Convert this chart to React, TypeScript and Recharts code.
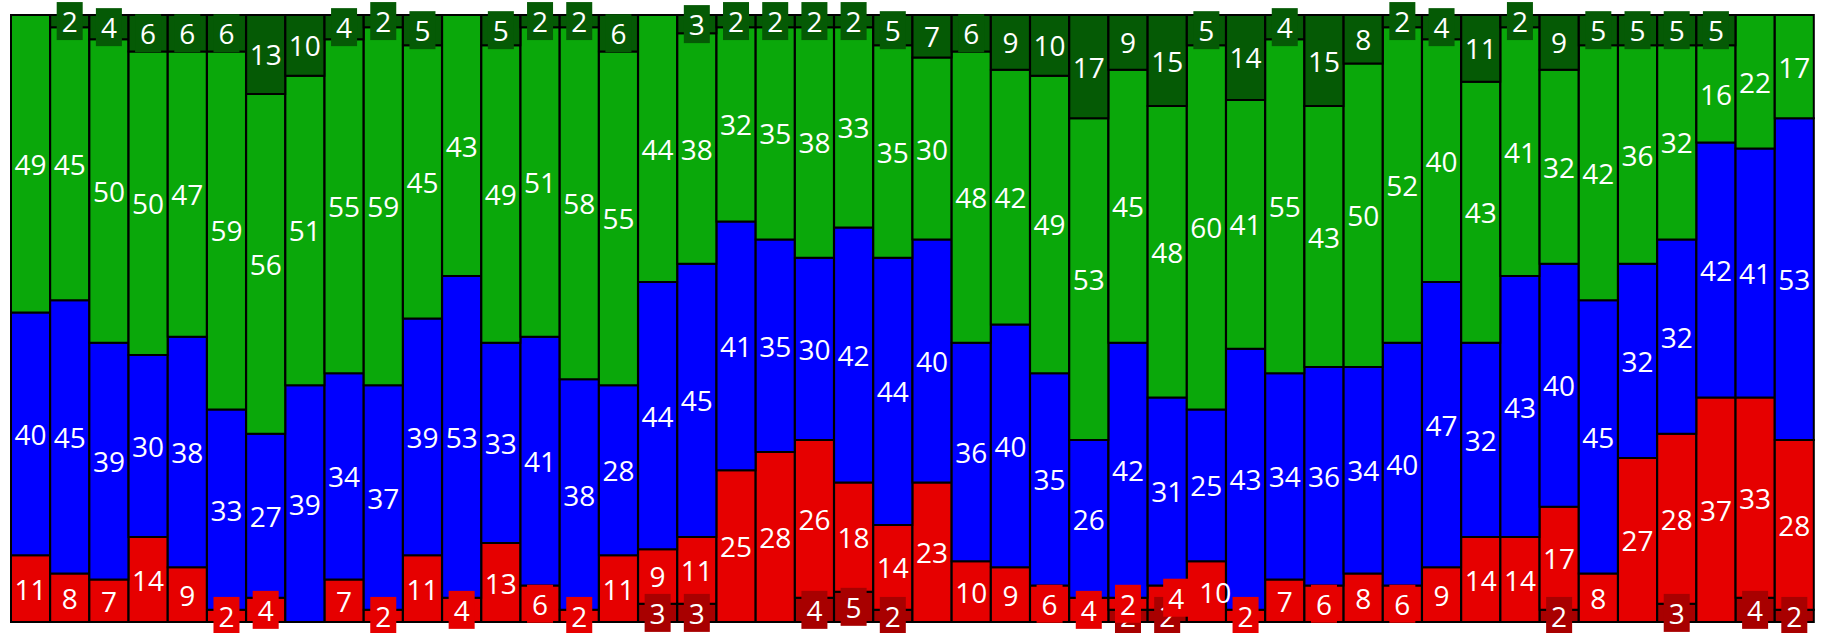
import { BarChart, Bar, XAxis, YAxis, LabelList } from "recharts";

// share of each group per column, bottom to top
const darkRed = [0, 0, 0, 0, 0, 0, 0, 0, 0, 0, 0, 0, 0, 0, 0, 0, 3, 3, 0, 0, 4, 5, 2, 0, 0, 0, 0, 0, 2, 2, 0, 0, 0, 0, 0, 0, 0, 0, 0, 2, 0, 0, 3, 0, 4, 2];
const red = [11, 8, 7, 14, 9, 2, 4, 0, 7, 2, 11, 4, 13, 6, 2, 11, 9, 11, 25, 28, 26, 18, 14, 23, 10, 9, 6, 4, 2, 4, 10, 2, 7, 6, 8, 6, 9, 14, 14, 17, 8, 27, 28, 37, 33, 28];
const blue = [40, 45, 39, 30, 38, 33, 27, 39, 34, 37, 39, 53, 33, 41, 38, 28, 44, 45, 41, 35, 30, 42, 44, 40, 36, 40, 35, 26, 42, 31, 25, 43, 34, 36, 34, 40, 47, 32, 43, 40, 45, 32, 32, 42, 41, 53];
const green = [49, 45, 50, 50, 47, 59, 56, 51, 55, 59, 45, 43, 49, 51, 58, 55, 44, 38, 32, 35, 38, 33, 35, 30, 48, 42, 49, 53, 45, 48, 60, 41, 55, 43, 50, 52, 40, 43, 41, 32, 42, 36, 32, 16, 22, 17];
const darkGreen = [0, 2, 4, 6, 6, 6, 13, 10, 4, 2, 5, 0, 5, 2, 2, 6, 0, 3, 2, 2, 2, 2, 5, 7, 6, 9, 10, 17, 9, 15, 5, 14, 4, 15, 8, 2, 4, 11, 2, 9, 5, 5, 5, 5, 0, 0];

const data = red.map((_, i) => ({
  name: String(i + 1),
  dr: darkRed[i],
  r: red[i],
  b: blue[i],
  g: green[i],
  dg: darkGreen[i],
}));

const DARK_RED = "#A80000";
const RED = "#E60000";
const BLUE = "#0000FF";
const GREEN = "#0AA80A";
const DARK_GREEN = "#055A05";

const W = 1823;
const H = 633;
const margin = { top: 15, right: 9, bottom: 11, left: 11 };

// both bottom segments tiny -> push their labels apart sideways
const drShift = (i: number) => (darkRed[i] > 0 && red[i] > 0 && red[i] <= 6 ? -11 : 0);
const rShift = (i: number) => (darkRed[i] > 0 && red[i] > 0 && red[i] <= 6 ? 9 : 0);
const noShift = () => 0;

const makeLabel = (fill: string, shift: (i: number) => number) => (props: any) => {
  const vb = props.viewBox ?? props;
  const { x, y, width, height } = vb;
  const value = Number(props.value);
  if (!value) return null;
  const cx = x + width / 2 + shift(props.index);
  const cy = y + height / 2;
  return (
    <g>
      {value <= 6 && <rect x={cx - 13} y={cy - 19} width={26} height={38} fill={fill} />}
      <text
        x={cx}
        y={cy}
        fill="#fff"
        textAnchor="middle"
        dominantBaseline="central"
        fontSize={28}
        fontFamily="'Open Sans', sans-serif"
      >
        {value}
      </text>
    </g>
  );
};

const series = [
  { key: "dr", color: DARK_RED, shift: drShift },
  { key: "r", color: RED, shift: rShift },
  { key: "b", color: BLUE, shift: noShift },
  { key: "g", color: GREEN, shift: noShift },
  { key: "dg", color: DARK_GREEN, shift: noShift },
];

export default function App() {
  return (
    <div style={{ position: "relative", width: W, height: H }}>
      <style>{"body{margin:0}"}</style>
      <div style={{ position: "absolute", left: 0, top: 0 }}>
        <BarChart width={W} height={H} data={data} margin={margin} barCategoryGap={0} barGap={0}>
          <XAxis dataKey="name" hide />
          <YAxis hide domain={[0, 100]} />
          {series.map((s) => (
            <Bar
              key={s.key}
              dataKey={s.key}
              stackId="a"
              fill={s.color}
              stroke="#000"
              strokeWidth={2}
              isAnimationActive={false}
            />
          ))}
        </BarChart>
      </div>
      {/* same chart again, bars invisible, so every label sits above every bar */}
      <div style={{ position: "absolute", left: 0, top: 0 }}>
        <BarChart width={W} height={H} data={data} margin={margin} barCategoryGap={0} barGap={0}>
          <XAxis dataKey="name" hide />
          <YAxis hide domain={[0, 100]} />
          {series.map((s) => (
            <Bar
              key={s.key}
              dataKey={s.key}
              stackId="a"
              fill="none"
              stroke="none"
              isAnimationActive={false}
            >
              <LabelList dataKey={s.key} content={makeLabel(s.color, s.shift)} />
            </Bar>
          ))}
        </BarChart>
      </div>
    </div>
  );
}
